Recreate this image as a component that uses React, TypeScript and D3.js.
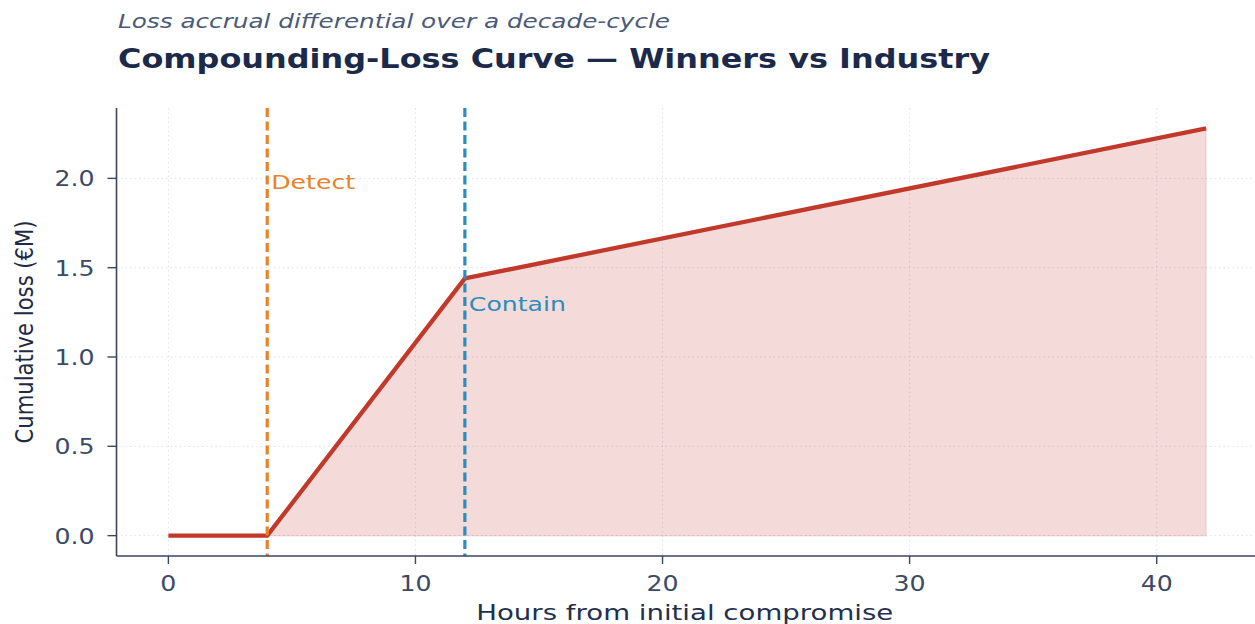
import React from 'react';
import * as d3 from 'd3';

// data
const hours = [0, 4, 12, 42];
const loss = [0, 0, 1.44, 2.28];
const xTicks = [0, 10, 20, 30, 40];
const yTicks = [0, 0.5, 1.0, 1.5, 2.0];
const eventLabels = ['Detect', 'Contain'];
const eventHours = [4, 12];
const eventLabelY = [1.94, 1.255];

const WIDTH = 1255;
const HEIGHT = 624;
const FONT = '"DejaVu Sans", sans-serif';

const plot = { left: 116.5, right: 1258, top: 108, bottom: 556 };

const eventColors = ['#e8832a', '#2b8cbe'];
const eventTextWidth = [84, 97];
const lineColor = '#c0392b';
const inkColor = '#3b4a66';

export default function App() {
  const xScale = d3
    .scaleLinear()
    .domain([-2.1, 44.1])
    .range([plot.left, plot.right]);

  const yScale = d3
    .scaleLinear()
    .domain([-0.114, 2.394])
    .range([plot.bottom, plot.top]);

  const points: Array<[number, number]> = hours.map((h, i) => [h, loss[i]]);

  const line = d3
    .line<[number, number]>()
    .x(d => xScale(d[0]))
    .y(d => yScale(d[1]));

  // shaded area only where the loss starts to grow
  const area = d3
    .area<[number, number]>()
    .x(d => xScale(d[0]))
    .y0(yScale(0))
    .y1(d => yScale(d[1]));
  const areaPoints = points.filter(d => d[0] >= eventHours[0]);

  const sx = 1.2; // the picture's glyphs are a bit wider than DejaVu

  return (
    <svg
      width={WIDTH}
      height={HEIGHT}
      style={{ position: 'absolute', left: 0, top: 0, background: '#fff' }}
      fontFamily={FONT}
    >
      {/* titles */}
      <text
        x={118}
        y={28}
        fontSize={19}
        fontStyle="italic"
        fill="#4b5a78"
        textLength={552}
        lengthAdjust="spacingAndGlyphs"
      >
        Loss accrual differential over a decade-cycle
      </text>
      <text
        x={118}
        y={68}
        fontSize={27}
        fontWeight="bold"
        fill="#1b2a4a"
        textLength={872}
        lengthAdjust="spacingAndGlyphs"
      >
        Compounding-Loss Curve — Winners vs Industry
      </text>

      {/* grid */}
      <g stroke="#dde1e6" strokeWidth={1} strokeDasharray="1.5,3">
        {xTicks.map(t => (
          <line key={'gx' + t} x1={xScale(t)} x2={xScale(t)} y1={plot.top} y2={plot.bottom} />
        ))}
        {yTicks.map(t => (
          <line key={'gy' + t} x1={plot.left} x2={plot.right} y1={yScale(t)} y2={yScale(t)} />
        ))}
      </g>

      {/* area + line */}
      <path
        d={area(areaPoints) || ''}
        fill={lineColor}
        fillOpacity={0.18}
        stroke={lineColor}
        strokeOpacity={0.12}
        strokeWidth={1.5}
      />
      <path
        d={line(points) || ''}
        fill="none"
        stroke={lineColor}
        strokeWidth={4.3}
        strokeLinejoin="round"
      />

      {/* event markers */}
      {eventHours.map((h, i) => (
        <g key={eventLabels[i]}>
          <line
            x1={xScale(h)}
            x2={xScale(h)}
            y1={plot.top}
            y2={plot.bottom}
            stroke={eventColors[i]}
            strokeWidth={3.2}
            strokeDasharray="9,4.5"
          />
          <text
            x={xScale(h) + 4}
            y={yScale(eventLabelY[i])}
            fontSize={20}
            fill={eventColors[i]}
            textLength={eventTextWidth[i]}
            lengthAdjust="spacingAndGlyphs"
          >
            {eventLabels[i]}
          </text>
        </g>
      ))}

      {/* axes */}
      <g stroke="#3a4560" strokeWidth={1.6}>
        <line x1={plot.left} x2={plot.left} y1={plot.top} y2={plot.bottom} />
        <line x1={plot.left} x2={plot.right} y1={plot.bottom} y2={plot.bottom} />
      </g>
      {xTicks.map(t => (
        <g key={'xt' + t}>
          <line
            x1={xScale(t)}
            x2={xScale(t)}
            y1={plot.bottom}
            y2={plot.bottom + 8}
            stroke="#3a4560"
            strokeWidth={1.4}
          />
          <text
            transform={`translate(${xScale(t)},${plot.bottom + 35}) scale(${sx},1)`}
            fontSize={21}
            textAnchor="middle"
            fill={inkColor}
          >
            {t}
          </text>
        </g>
      ))}
      {yTicks.map(t => (
        <g key={'yt' + t}>
          <line
            x1={plot.left - 9}
            x2={plot.left}
            y1={yScale(t)}
            y2={yScale(t)}
            stroke="#3a4560"
            strokeWidth={1.4}
          />
          <text
            transform={`translate(${plot.left - 22},${yScale(t) + 8}) scale(${sx},1)`}
            fontSize={21}
            textAnchor="end"
            fill={inkColor}
          >
            {t.toFixed(1)}
          </text>
        </g>
      ))}

      {/* axis titles */}
      <text
        x={(plot.left + 1253) / 2}
        y={620}
        fontSize={21}
        textAnchor="middle"
        fill="#22304d"
        textLength={417}
        lengthAdjust="spacingAndGlyphs"
      >
        Hours from initial compromise
      </text>
      <text
        transform={`translate(33,${(plot.top + plot.bottom) / 2}) scale(1.15,1) rotate(-90)`}
        fontSize={21}
        textAnchor="middle"
        fill="#1e2a45"
        textLength={223}
        lengthAdjust="spacingAndGlyphs"
      >
        Cumulative loss (€M)
      </text>
    </svg>
  );
}
